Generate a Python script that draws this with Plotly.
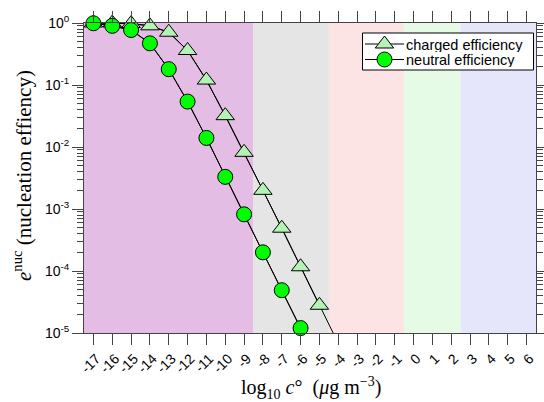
import plotly.graph_objects as go
import numpy as np

# ---- data ----
x_charged = [-17, -16, -15, -14, -13, -12, -11, -10, -9, -8, -7, -6, -5, -4]
charged_eff = [1.0, 1.0, 0.98, 0.90, 0.71, 0.36, 0.12, 0.032, 0.0082, 0.0020, 4.9e-4, 1.17e-4, 2.8e-5, 6.8e-6]

x_neutral = [-17, -16, -15, -14, -13, -12, -11, -10, -9, -8, -7, -6, -5]
neutral_eff = [0.99, 0.90, 0.77, 0.47, 0.18, 0.054, 0.014, 0.0033, 8.2e-4, 2.0e-4, 4.9e-5, 1.2e-5, 2.9e-6]

series_names = ["charged efficiency", "neutral efficiency"]

x_ticks = list(range(-17, 7))
x_ticktext = [str(v) for v in x_ticks]
y_tickvals = [1e-5, 1e-4, 1e-3, 1e-2, 1e-1, 1e0]
y_ticktext = ["10<sup>-5</sup>", "10<sup>-4</sup>", "10<sup>-3</sup>", "10<sup>-2</sup>", "10<sup>-1</sup>", "10<sup>0</sup>"]

# volatility bands (edges in log10 c°)
band_edges = [-17.5, -8.5, -4.5, -0.5, 2.5, 6.5]
band_colors = ["#e4bde4", "#e5e5e5", "#fde4e4", "#e6fbe6", "#e5e5fb"]

x_range = [-17.5, 6.5]
y_min = 1e-5

W, H = 544, 402
L, R, T, B = 84, 8, 23, 69
PW, PH = W - L - R, H - T - B


def px_x(px):  # page pixel -> paper x
    return (px - L) / PW


def px_y(py):  # page pixel -> paper y
    return (H - B - py) / PH


fig = go.Figure()

for i, col in enumerate(band_colors):
    fig.add_shape(type="rect", xref="x", yref="paper",
                  x0=band_edges[i], x1=band_edges[i + 1], y0=0, y1=1,
                  fillcolor=col, line=dict(width=0), layer="below")

styles = [("triangle-up", "#b3f3b3", 16), ("circle", "#00ff00", 15)]
series = [(series_names[0], x_charged, charged_eff), (series_names[1], x_neutral, neutral_eff)]
for (name, xs, ys), (sym, col, size) in zip(series, styles):
    xs = np.array(xs); ys = np.array(ys)
    fig.add_trace(go.Scatter(x=xs, y=ys, mode="lines", line=dict(color="black", width=1),
                             showlegend=False, hoverinfo="skip"))
    m = ys >= y_min
    fig.add_trace(go.Scatter(x=xs[m], y=ys[m], mode="lines+markers", name=name, showlegend=False,
                             line=dict(color="black", width=1),
                             marker=dict(symbol=sym, size=size, color=col,
                                         line=dict(color="black", width=1)),
                             cliponaxis=False))

# ---- legend drawn on a pixel-coordinate overlay axis ----
leg_box = (362.5, 533.5, 33, 70)
leg_rows = [44, 59.5]
leg_line = (365, 404)
leg_text_x = 405
fig.add_shape(type="rect", xref="x2", yref="y2", x0=leg_box[0], x1=leg_box[1], y0=leg_box[2], y1=leg_box[3],
              fillcolor="white", line=dict(color="black", width=1), layer="below")
for (name, _, _), (sym, col, size), ry in zip(series, styles, leg_rows):
    fig.add_shape(type="line", xref="x2", yref="y2", x0=leg_line[0], x1=leg_line[1], y0=ry, y1=ry,
                  line=dict(color="black", width=1), layer="below")
    fig.add_trace(go.Scatter(x=[(leg_line[0] + leg_line[1]) / 2], y=[ry], xaxis="x2", yaxis="y2",
                             mode="markers", showlegend=False, hoverinfo="skip", cliponaxis=False,
                             marker=dict(symbol=sym, size=size, color=col, line=dict(color="black", width=1))))
    fig.add_annotation(text=name, xref="paper", yref="paper", x=px_x(leg_text_x), y=px_y(ry),
                       xanchor="left", yanchor="middle", showarrow=False, borderpad=0, height=15,
                       font=dict(family="Liberation Sans, Arial", size=14.5, color="black"))

axis_col = "#444444"
fig.update_xaxes(range=x_range, tickmode="array", tickvals=x_ticks, ticktext=x_ticktext,
                 tickangle=-45, ticks="outside", ticklen=11, tickwidth=1, tickcolor=axis_col,
                 ticklabelshift=3, automargin=False,
                 showline=True, linecolor=axis_col, linewidth=1, mirror="ticks",
                 showgrid=False, zeroline=False,
                 tickfont=dict(family="Liberation Sans, Arial", size=14, color="black"))
fig.update_yaxes(type="log", range=[-5, 0], tickmode="array", tickvals=y_tickvals, ticktext=y_ticktext,
                 ticks="outside", ticklen=11, tickwidth=1, tickcolor=axis_col, automargin=False,
                 minor=dict(tickmode="array",
                            tickvals=[d * 10.0 ** k for k in range(-5, 0) for d in range(2, 10)],
                            ticks="outside", ticklen=6, tickwidth=1, tickcolor=axis_col),
                 showline=True, linecolor=axis_col, linewidth=1, mirror="ticks",
                 showgrid=False, zeroline=False,
                 tickfont=dict(family="Liberation Sans, Arial", size=14, color="black"))

fig.add_annotation(text="log<sub>10</sub> <i>c</i>°  (<i>μ</i>g m<sup>−3</sup>)", xref="paper", yref="paper",
                   x=px_x(311), y=px_y(387.5), xanchor="center", yanchor="middle", showarrow=False,
                   font=dict(family="Liberation Serif, DejaVu Serif", size=20, color="black"))
fig.add_annotation(text="<i>e</i><sup>nuc</sup> (nucleation effiency)", xref="paper", yref="paper",
                   x=px_x(22), y=px_y(176), xanchor="center", yanchor="middle", textangle=-90, showarrow=False,
                   font=dict(family="Liberation Serif, DejaVu Serif", size=21, color="black"))

fig.update_layout(width=W, height=H,
                  margin=dict(l=L, r=R, t=T, b=B, autoexpand=False),
                  plot_bgcolor="white", paper_bgcolor="white", showlegend=False,
                  xaxis2=dict(overlaying="x", range=[L, W - R], visible=False, fixedrange=True),
                  yaxis2=dict(overlaying="y", range=[H - B, T], visible=False, fixedrange=True))

fig.write_html("out.html", post_script="document.body.style.margin='0';",
               config={"displayModeBar": False})
